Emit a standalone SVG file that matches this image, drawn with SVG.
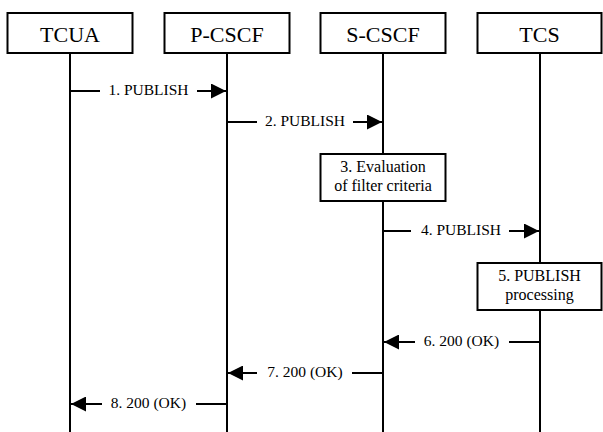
<svg xmlns="http://www.w3.org/2000/svg" width="603" height="432" viewBox="0 0 603 432">
<defs>
<style>
.box{fill:#fff;stroke:#000;stroke-width:2}
.life{stroke:#000;stroke-width:2;fill:none}
.msg{stroke:#000;stroke-width:2;fill:none}
text{font-family:'Liberation Serif','Times New Roman',serif;text-anchor:middle;fill:#000}
.title{font-size:22px}
.lbl{font-size:15.5px}
.btxt{font-size:16px}
</style>
<marker id="ah" markerUnits="userSpaceOnUse" markerWidth="15" markerHeight="15" refX="15" refY="7.5" orient="auto" viewBox="0 0 15 15">
<path d="M0,0 L15,7.5 L0,15 z" fill="#000"/>
</marker>
</defs>
<rect width="603" height="432" fill="#fff"/>
<g id="TCUA">
<line class="life" x1="70" y1="53" x2="70" y2="432"/>
<rect class="box" x="7.5" y="13" width="125" height="40"/>
<text class="title" x="70" y="41.5">TCUA</text>
</g>
<g id="P-CSCF">
<line class="life" x1="227" y1="53" x2="227" y2="432"/>
<rect class="box" x="164.5" y="13" width="125" height="40"/>
<text class="title" x="227" y="41.5">P-CSCF</text>
</g>
<g id="S-CSCF">
<line class="life" x1="383" y1="53" x2="383" y2="432"/>
<rect class="box" x="320.5" y="13" width="125" height="40"/>
<text class="title" x="383" y="41.5">S-CSCF</text>
</g>
<g id="TCS">
<line class="life" x1="540" y1="53" x2="540" y2="432"/>
<rect class="box" x="477.5" y="13" width="124" height="40"/>
<text class="title" x="539.5" y="41.5">TCS</text>
</g>
<g id="step3">
<rect class="box" x="320.5" y="154" width="125" height="47"/>
<text class="btxt" x="383" y="172">3. Evaluation</text>
<text class="btxt" x="383" y="190.5">of filter criteria</text>
</g>
<g id="step5">
<rect class="box" x="477.5" y="263" width="124" height="47"/>
<text class="btxt" x="539.5" y="281">5. PUBLISH</text>
<text class="btxt" x="539.5" y="299.5">processing</text>
</g>
<g id="connectors">
<line class="msg" x1="70" y1="91" x2="100" y2="91"/>
<line class="msg" x1="197" y1="91" x2="226" y2="91" marker-end="url(#ah)"/>
<text class="lbl" x="148.5" y="95">1. PUBLISH</text>

<line class="msg" x1="227" y1="122" x2="257" y2="122"/>
<line class="msg" x1="353" y1="122" x2="382" y2="122" marker-end="url(#ah)"/>
<text class="lbl" x="305" y="126">2. PUBLISH</text>

<line class="msg" x1="383" y1="231" x2="411" y2="231"/>
<line class="msg" x1="509" y1="231" x2="539" y2="231" marker-end="url(#ah)"/>
<text class="lbl" x="461" y="235">4. PUBLISH</text>

<line class="msg" x1="540" y1="342" x2="509" y2="342"/>
<line class="msg" x1="415" y1="342" x2="384" y2="342" marker-end="url(#ah)"/>
<text class="lbl" x="461.5" y="346">6. 200 (OK)</text>

<line class="msg" x1="383" y1="373" x2="352" y2="373"/>
<line class="msg" x1="257" y1="373" x2="228" y2="373" marker-end="url(#ah)"/>
<text class="lbl" x="305" y="377">7. 200 (OK)</text>

<line class="msg" x1="227" y1="404" x2="196" y2="404"/>
<line class="msg" x1="102" y1="404" x2="71" y2="404" marker-end="url(#ah)"/>
<text class="lbl" x="148.5" y="408">8. 200 (OK)</text>
</g>
</svg>
